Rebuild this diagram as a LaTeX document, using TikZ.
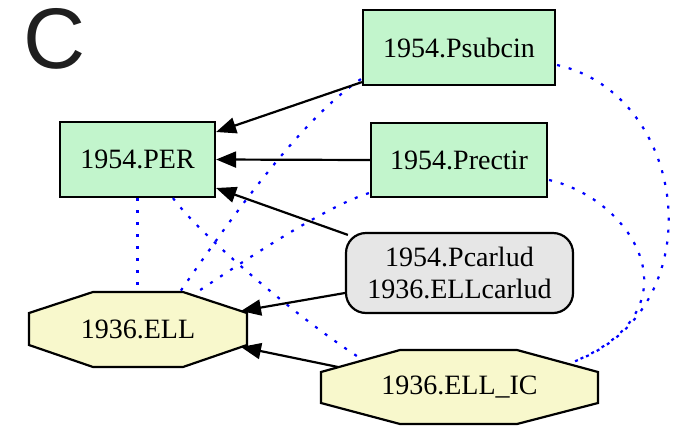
\documentclass[tikz,border=0pt]{standalone}
\usepackage{fontspec}
\setmainfont{Liberation Serif}
\newfontfamily\labelfont{Liberation Sans}
\usetikzlibrary{arrows.meta,calc}
\definecolor{pgreen}{HTML}{C2F5CC}
\definecolor{pyellow}{HTML}{F8F8CC}
\definecolor{pgray}{HTML}{E6E6E6}
\begin{document}
\begin{tikzpicture}[x=1pt,y=-1pt,
  txt/.style={inner sep=0pt, font=\fontsize{28}{32}\selectfont, align=center},
  box/.style={txt, draw=black, line width=2.2pt},
  gbox/.style={box, fill=pgreen},
  octo/.style={draw=black, line width=2.2pt, fill=pyellow, line join=miter},
  arr/.style={line width=2.2pt, -{Triangle[length=20pt,width=16pt]}},
  dotl/.style={blue, line width=2.2pt, dash pattern=on 3pt off 9pt}]
\useasboundingbox (0,0) rectangle (688,429);
\fill[white] (0,0) rectangle (688,429);

% label
\node[inner sep=0pt, text=black!88, font=\labelfont\fontsize{86}{86}\selectfont] (lab) at (55,39) {C};

% nodes
\node[gbox, minimum width=155pt, minimum height=75pt] (per) at (137.5,159.5) {1954.PER};
\node[gbox, minimum width=192pt, minimum height=75pt] (psub) at (459,47.5) {1954.Psubcin};
\node[gbox, minimum width=176pt, minimum height=74pt] (prect) at (459,160) {1954.Prectir};
\node[box, fill=pgray, rounded corners=20pt, minimum width=227pt, minimum height=80pt] (carl) at (459.5,273) {1954.Pcarlud\\1936.ELLcarlud};

\draw[octo] (93,292)--(183,292)--(247,313)--(247,345)--(183,367)--(93,367)--(29,345)--(29,313)--cycle;
\node[txt, minimum width=218pt, minimum height=75pt] (ell) at (138,329.5) {1936.ELL};
\draw[octo] (400,350)--(517,350)--(598,372)--(598,403)--(517,424)--(400,424)--(321,403)--(321,372)--cycle;
\node[txt, minimum width=277pt, minimum height=74pt] (ellic) at (459.5,387) {1936.ELL\_IC};

% dotted connectors
\draw[dotl] ($(psub.east)+(1,17.5)$) .. controls (690,95) and (715,310) .. ($(ellic.center)+(113.5,-25)$);
\draw[dotl] ($(prect.east)+(1,20)$) .. controls (635,200) and (700,310) .. ($(ellic.center)+(113.5,-25)$);
\draw[dotl] ($(psub.south west)+(-1,-7)$) .. controls (300,120) and (230,220) .. ($(ell.north)+(42,0)$);
\draw[dotl] ($(prect.south west)+(-1,-5)$) .. controls (330,205) and (260,250) .. ($(ell.north)+(55,3)$);
\draw[dotl] (per.south) -- (per.south |- ell.north);
\draw[dotl] ($(per.south)+(35.5,0)$) .. controls (200,235) and (300,320) .. ($(ellic.center)+(-96.5,-27)$);

% solid connectors
\draw[arr] ($(psub.south west)+(0,-4)$) -- ($(per.east)+(0,-27.5)$);
\draw[arr] (prect.west) -- (per.east);
\draw[arr] ($(carl.north west)+(3,3)$) -- ($(per.east)+(0,28.5)$);
\draw[arr] ($(carl.west)+(0,20)$) -- ($(ell.center)+(103,-18.5)$);
\draw[arr] ($(ellic.center)+(-121.5,-20)$) -- ($(ell.center)+(103,17.5)$);
\end{tikzpicture}
\end{document}
